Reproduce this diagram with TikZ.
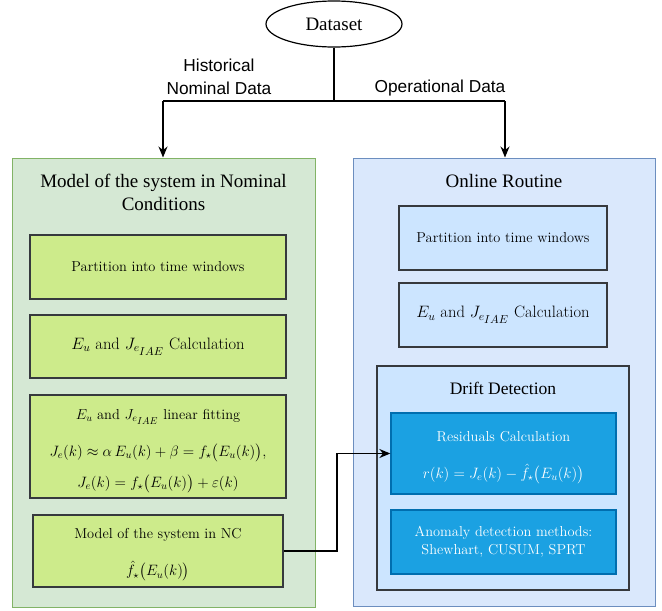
\RequirePackage{fix-cm}
\documentclass[tikz,border=0pt]{standalone}
\usepackage{amsmath,amssymb}
\usepackage{fontspec}
\newfontfamily\arialf{Liberation Sans}
\newfontfamily\timesf{Liberation Serif}
\usetikzlibrary{shapes.geometric,arrows.meta}
\definecolor{gfill}{HTML}{D5E8D4}
\definecolor{gline}{HTML}{82B366}
\definecolor{lgfill}{HTML}{CDEB8B}
\definecolor{bfill}{HTML}{DAE8FC}
\definecolor{bline}{HTML}{6C8EBF}
\definecolor{lbfill}{HTML}{CCE5FF}
\definecolor{dline}{HTML}{36393D}
\definecolor{dbfill}{HTML}{1BA1E2}
\definecolor{dbline}{HTML}{006EAF}
\newcommand{\JIAE}{J_{e_{\scriptstyle IAE}}}
\newcommand{\mathsz}{\fontsize{15}{18}\selectfont}
\begin{document}
\begin{tikzpicture}[x=1pt,y=-1pt,
  container/.style={draw, line width=1pt, inner sep=0pt},
  inbox/.style={draw=dline, line width=1.3pt, inner sep=0pt, align=center,
    font=\fontsize{14.4}{18}\selectfont},
  greenbox/.style={inbox, fill=lgfill},
  bluebox/.style={inbox, fill=lbfill},
  darkbox/.style={inbox, draw=dbline, fill=dbfill, text=white},
  calcfont/.style={font=\fontsize{16.5}{20}\selectfont},
  boxtext/.style={align=center, inner sep=0pt, font=\fontsize{14.4}{18}\selectfont},
  titletext/.style={align=center, inner sep=0pt, font=\timesf\fontsize{19}{23}\selectfont},
  edgelabel/.style={align=center, inner sep=0pt, font=\arialf\fontsize{17.3}{23}\selectfont},
  conn/.style={line width=1.4pt, -{Stealth[length=11pt,width=9pt]}},
  plainconn/.style={line width=1.4pt}]
\useasboundingbox (0,0) rectangle (662,611);

% containers
\node[container, draw=gline, fill=gfill, minimum width=303, minimum height=449] (gc) at (163.5,382.5) {};
\node[container, draw=bline, fill=bfill, minimum width=302, minimum height=448] (bc) at (504,382) {};

% dataset
\node[draw, line width=1.2pt, fill=white, ellipse, minimum width=136, minimum height=46, inner sep=0pt,
  font=\timesf\fontsize{19}{23}\selectfont] (ds) at (334,24) {Dataset};

% titles
\node[titletext] (gtitle) at (163.5,192) {Model of the system in Nominal\\Conditions};
\node[titletext] (btitle) at (504,181) {Online Routine};

% left column
\node[greenbox, minimum width=256, minimum height=64] (g1) at (158,267) {Partition into time windows};
\node[greenbox, calcfont, minimum width=256, minimum height=63] (g2) at (158,346.5) {$E_u$ and $\JIAE$ Calculation};
\node[greenbox, minimum width=256, minimum height=103] (g3) at (158,446.5) {};
\node[boxtext] (g3t) at (158,451)
  {$E_u$ and $\JIAE$ linear fitting\\[18pt]
   {\mathsz$J_e(k) \approx \alpha\, E_u(k) + \beta = f_\star\bigl(E_u(k)\bigr),$}\\[12pt]
   {\mathsz$J_e(k) = f_\star\bigl(E_u(k)\bigr) + \varepsilon(k)$}};
\node[greenbox, minimum width=250, minimum height=72] (g4) at (158,551) {};
\node[boxtext] (g4t) at (158,555)
  {Model of the system in NC\\[19pt] {\mathsz$\hat{f}_\star\bigl(E_u(k)\bigr)$}};

% right column
\node[bluebox, minimum width=208, minimum height=64] (b1) at (503,238) {Partition into time windows};
\node[bluebox, calcfont, minimum width=208, minimum height=64] (b2) at (503,315) {$E_u$ and $\JIAE$ Calculation};
\node[bluebox, minimum width=252, minimum height=224] (dd) at (503,478) {};
\node[titletext, font=\timesf\fontsize{17.5}{21}\selectfont] (ddtitle) at (503,388) {Drift Detection};
\node[darkbox, minimum width=225, minimum height=81] (rc) at (503.5,453.5) {};
\node[boxtext, text=white] (rct) at (503.5,457.5)
  {Residuals Calculation\\[19pt] {\mathsz$r(k) = J_e(k) - \hat{f}_\star\bigl(E_u(k)\bigr)$}};
\node[darkbox, minimum width=225, minimum height=64] (ad) at (503.5,542)
  {Anomaly detection methods:\\Shewhart, CUSUM, SPRT};

% edge labels
\node[edgelabel] (lhist) at (219,77) {Historical\\Nominal Data};
\node[edgelabel] (lop) at (440,88) {Operational Data};

% connectors
\coordinate (split) at (334,101);
\coordinate (jl) at (163,101);
\coordinate (jr) at (505,101);
\coordinate (mid) at (337,0);
\draw[plainconn] (ds.south) -- (split);
\draw[plainconn] (jl) -- (jr);
\draw[conn] (jl) -- (jl |- gc.north);
\draw[conn] (jr) -- (jr |- bc.north);
\draw[conn] (g4.east) -- (g4.east -| mid) |- (rc.west);
\end{tikzpicture}
\end{document}
